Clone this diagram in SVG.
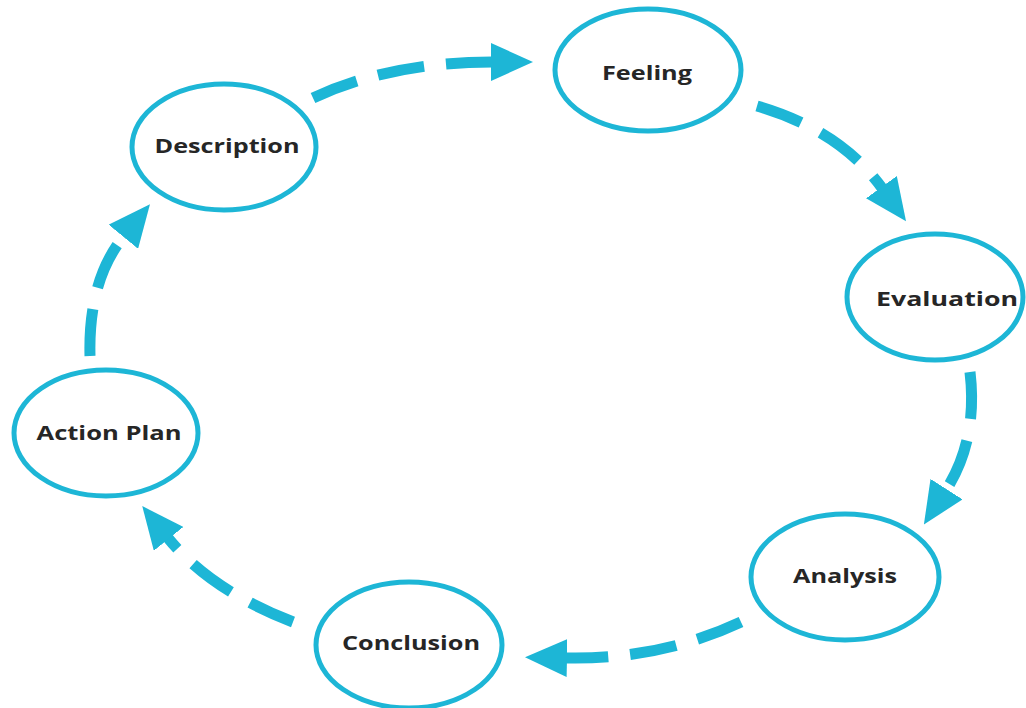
<svg xmlns="http://www.w3.org/2000/svg" width="1026" height="708" viewBox="0 0 1026 708">
<style>
.node ellipse{fill:#fff;stroke:#1DB6D6;stroke-width:5}
.node text{font-family:"Open Sans","Liberation Sans",sans-serif;font-weight:bold;font-size:19px;fill:#262626;text-anchor:middle}
.conn path{fill:none;stroke:#1DB6D6;stroke-width:11;stroke-dasharray:47 22;marker-end:url(#ah)}
</style>
<defs>
<marker id="ah" markerUnits="userSpaceOnUse" viewBox="0 0 42 38" markerWidth="42" markerHeight="38" refX="1" refY="19" orient="auto">
<path d="M0,0 L42,19 L0,38 z" fill="#1DB6D6"/>
</marker>
</defs>
<rect width="1026" height="708" fill="#fff"/>
<g id="connectors" class="conn">
<path d="M313,98 Q390,62 492,62"/>
<path d="M757,106 Q840,130 882,188"/>
<path d="M970,372 Q978,440 946,490"/>
<path d="M741,622 Q660,660 566,658"/>
<path d="M293,622 Q210,590 168,538"/>
<path d="M90,356 Q88,280 124,236"/>
</g>
<g id="description" class="node"><ellipse cx="224" cy="147" rx="92" ry="63"/><text x="227" y="153" textLength="145" lengthAdjust="spacingAndGlyphs">Description</text></g>
<g id="feeling" class="node"><ellipse cx="648" cy="70" rx="93" ry="61"/><text x="647" y="80" textLength="90" lengthAdjust="spacingAndGlyphs">Feeling</text></g>
<g id="evaluation" class="node"><ellipse cx="935" cy="297" rx="88" ry="63"/><text x="947" y="306" textLength="142" lengthAdjust="spacingAndGlyphs">Evaluation</text></g>
<g id="analysis" class="node"><ellipse cx="845" cy="577" rx="94" ry="63"/><text x="845" y="583" textLength="104" lengthAdjust="spacingAndGlyphs">Analysis</text></g>
<g id="conclusion" class="node"><ellipse cx="409" cy="645" rx="93" ry="63"/><text x="411" y="650" textLength="138" lengthAdjust="spacingAndGlyphs">Conclusion</text></g>
<g id="action-plan" class="node"><ellipse cx="106" cy="433" rx="92" ry="63"/><text x="109" y="440" textLength="145" lengthAdjust="spacingAndGlyphs">Action Plan</text></g>
</svg>
